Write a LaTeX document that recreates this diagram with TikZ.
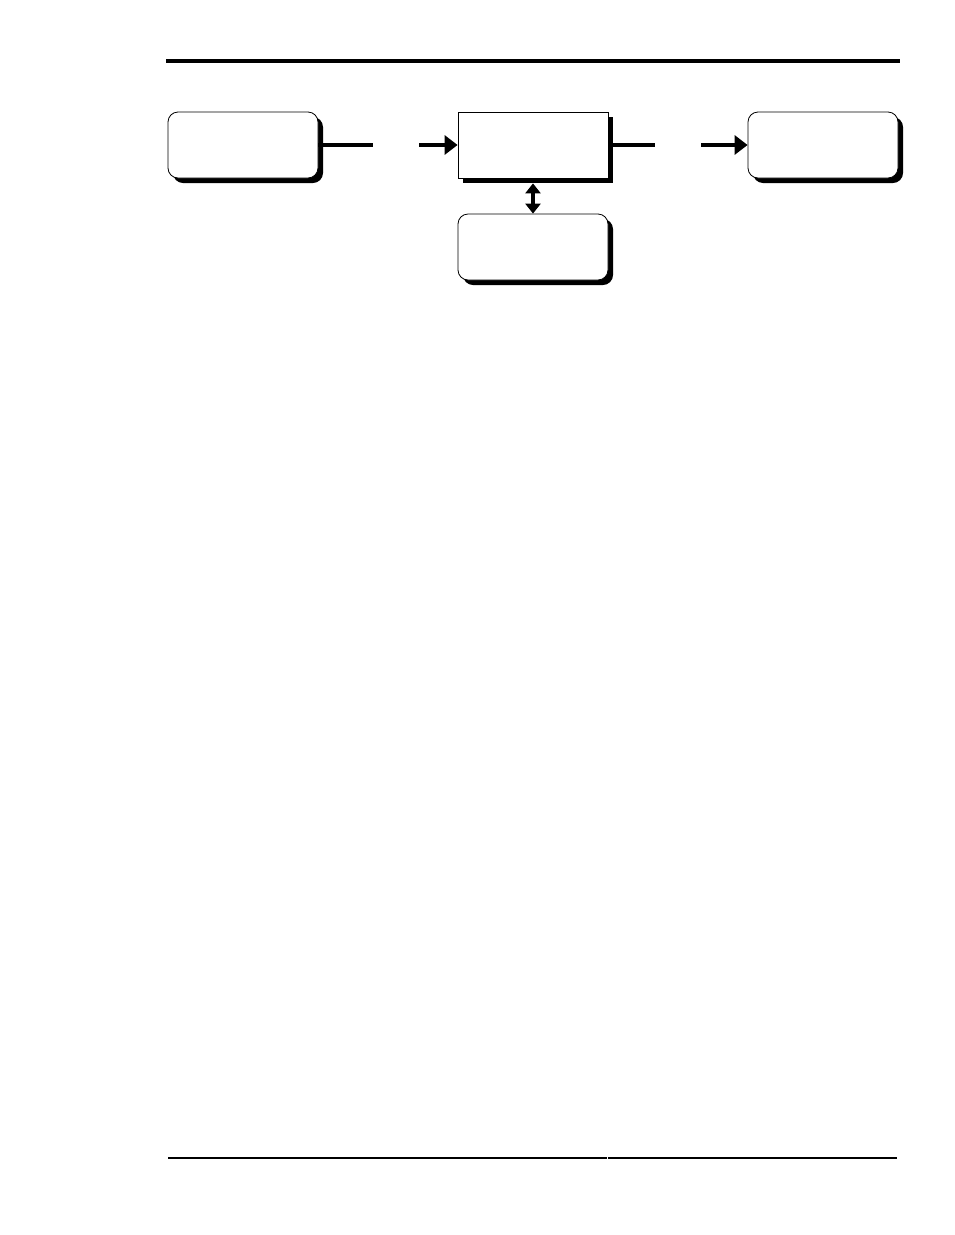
\documentclass[tikz,border=0pt]{standalone}
\usetikzlibrary{arrows.meta,shadows}

\tikzset{
  stagebox/.style={draw,line width=0.8pt,fill=white,minimum width=150pt,minimum height=66pt,inner sep=0pt,
    drop shadow={shadow xshift=5pt,shadow yshift=-5pt,fill=black,opacity=1}},
  roundbox/.style={stagebox,rounded corners=10pt},
  flow/.style={line width=4pt},
  flowarrow/.style={line width=4pt,-{Triangle[length=13pt,width=19pt]}},
}

\begin{document}
\begin{tikzpicture}[x=1pt,y=-1pt]
      \useasboundingbox (0,0) rectangle (954,1235);
      \draw[line width=4pt] (166,61) -- (900,61);
      \node[roundbox] (source) at (243,145) {};
      \node[stagebox] (process) at (533,145) {};
      \node[roundbox] (target) at (823,145) {};
      \node[roundbox] (store) at (533,247) {};
      \coordinate (gapa) at (373,145);
      \coordinate (gapb) at (419,145);
      \coordinate (gapc) at (655,145);
      \coordinate (gapd) at (701,145);
      \draw[flow] (source.east) -- (gapa);
      \draw[flowarrow] (gapb) -- (process.west);
      \draw[flow] (process.east) -- (gapc);
      \draw[flowarrow] (gapd) -- (target.west);
      \draw[line width=4.5pt,{Triangle[length=10pt,width=15pt]}-{Triangle[length=10pt,width=15pt]}]
        ([yshift=-5pt]process.south) -- (store.north);
      \draw[line width=2pt] (168,1158) -- (606.5,1158);
      \draw[line width=2pt] (607.5,1158) -- (897,1158);
    \end{tikzpicture}
\end{document}
